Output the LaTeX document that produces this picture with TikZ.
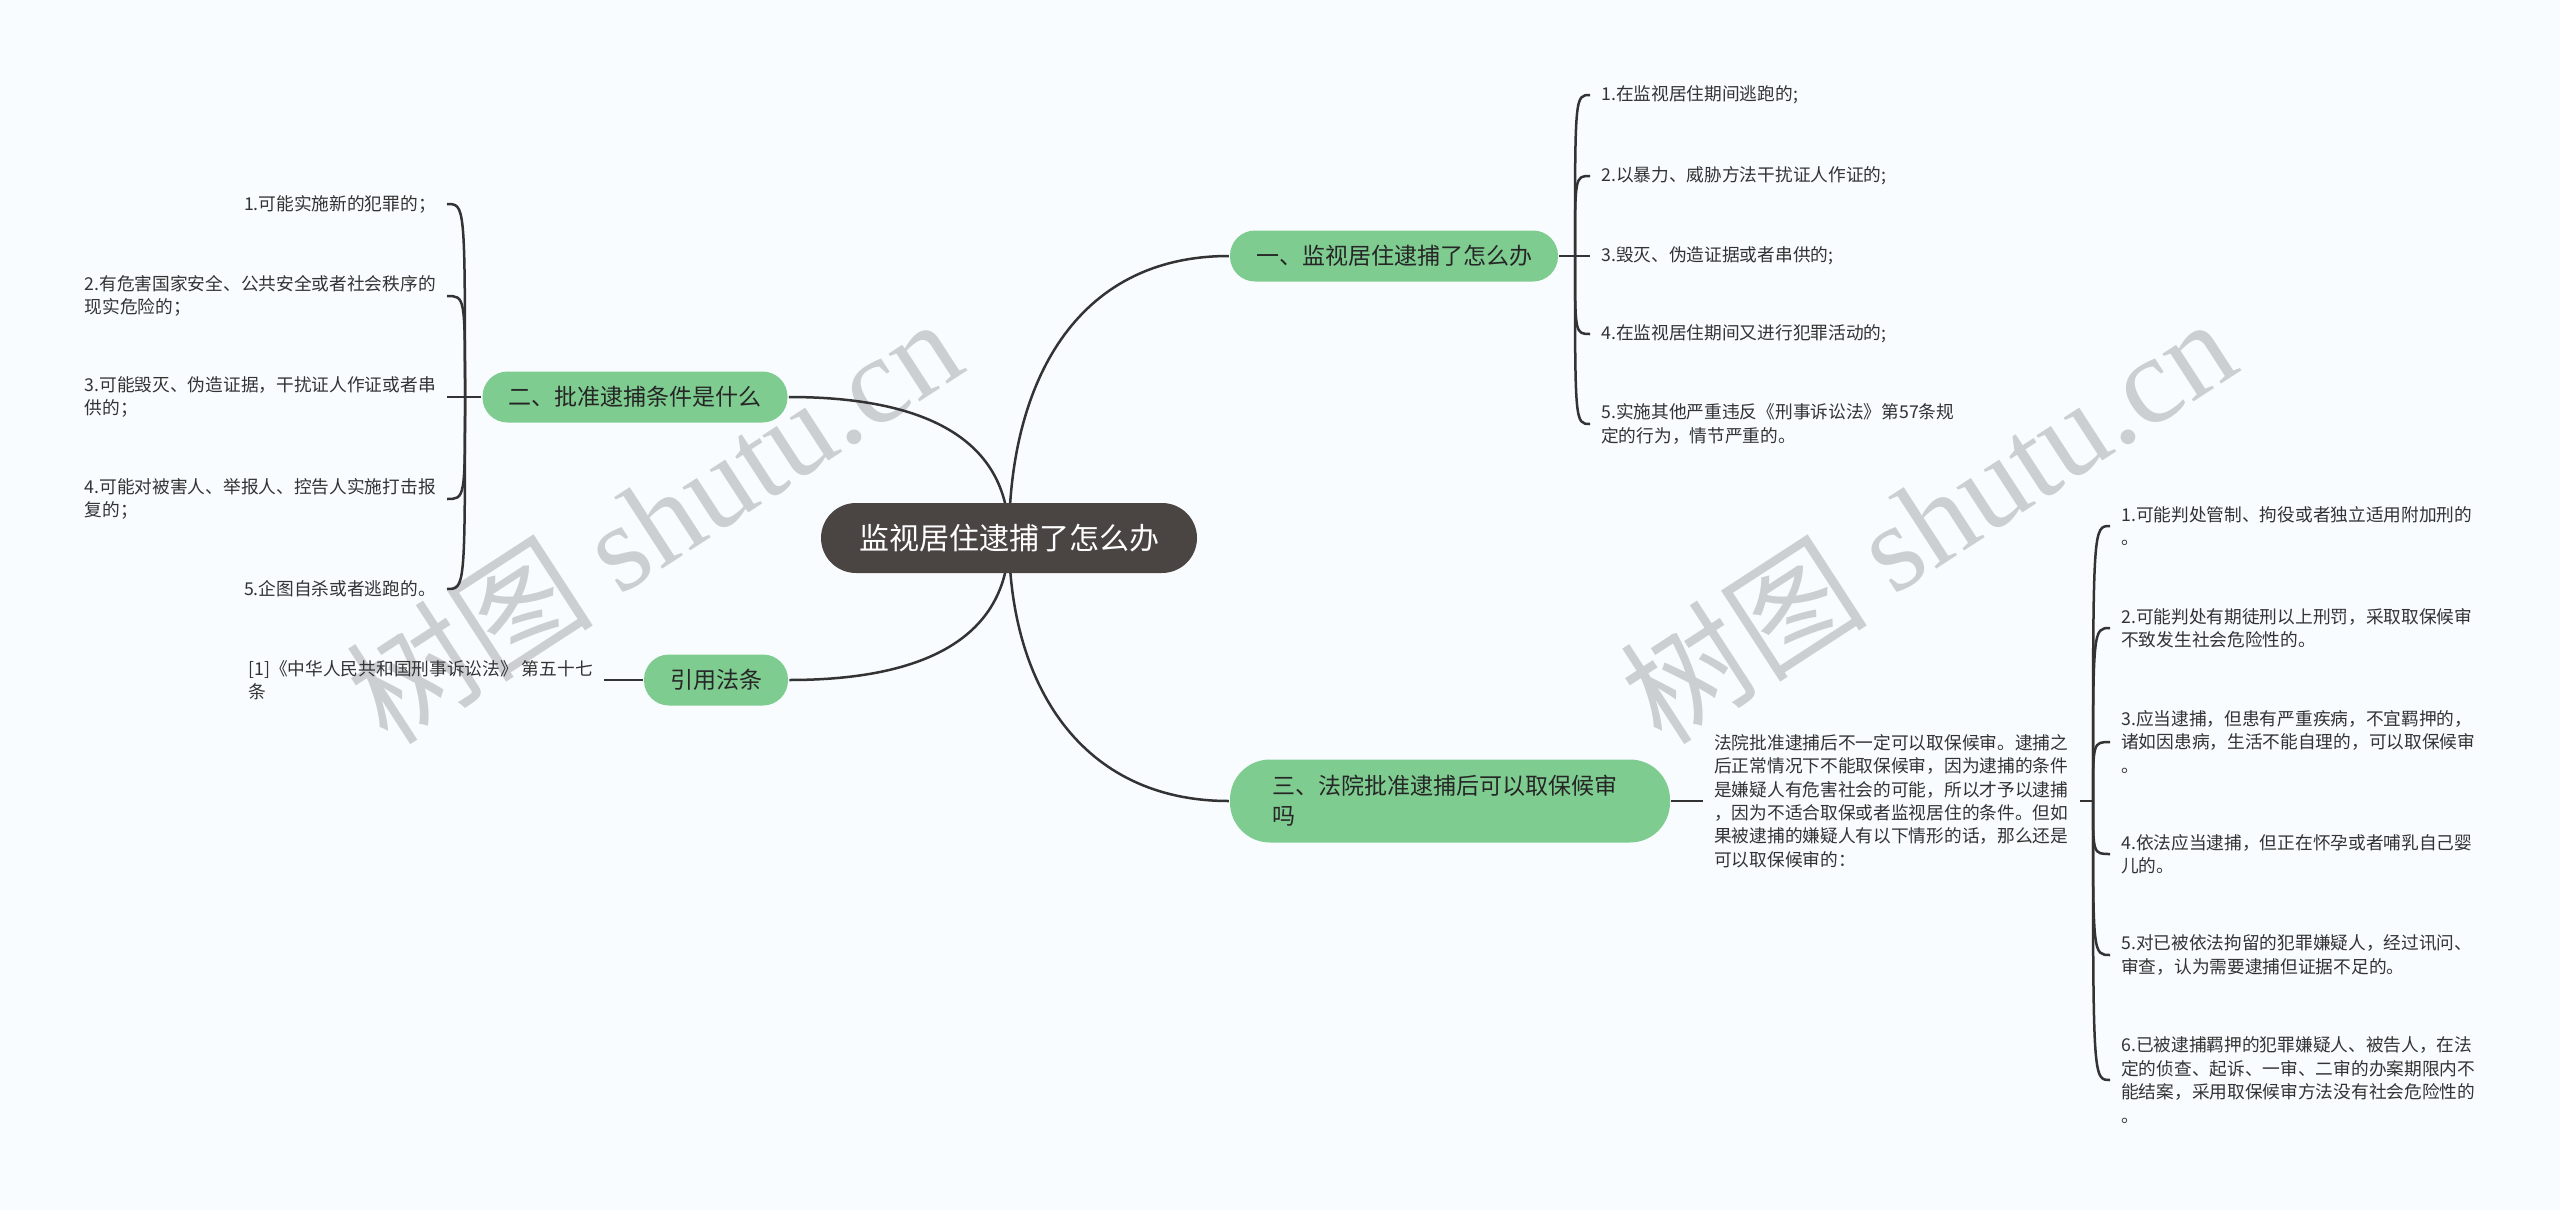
\documentclass[tikz,border=0pt]{standalone}
\usepackage{fontspec}
\setmainfont{Noto Sans CJK SC}
\newfontfamily\wmserif{Liberation Serif}
\usetikzlibrary{backgrounds}
\definecolor{tgreen}{RGB}{127,204,145}
\definecolor{rootgray}{RGB}{74,68,67}
\definecolor{linegray}{RGB}{51,51,51}
\definecolor{wmgray}{RGB}{204,207,209}
\definecolor{paper}{RGB}{248,252,254}

\begin{document}
\begin{tikzpicture}[x=0.5pt,y=-0.5pt,line width=1.25pt,
  root/.style={fill=rootgray,text=white,rounded corners=17.5pt,minimum height=35pt,inner xsep=19pt,font=\fontsize{15}{18}\selectfont},
  topic/.style={fill=tgreen,text=black!85,rounded corners=12.5pt,minimum height=25.5pt,inner xsep=13pt,font=\fontsize{11.5}{15}\selectfont},
  leaf/.style={text=black!80,align=left,inner xsep=5pt,inner ysep=2pt,font=\fontsize{8.85}{11.7}\selectfont},
  link/.style={draw=linegray,line width=1.25pt}]
  \useasboundingbox (0,0) rectangle (2560,1210);
  % nodo central y ramas
  \node[root] (root) at (1009,538) {监视居住逮捕了怎么办};
  \node[topic] (n1) at (1394,256) {一、监视居住逮捕了怎么办};
  \node[topic] (n2) at (635,397) {二、批准逮捕条件是什么};
  \node[topic] (cite) at (716,680) {引用法条};
  \node[topic,rounded corners=20pt,minimum height=41.5pt,text width=178pt,inner xsep=21pt,align=left] (n3) at (1450,801) {三、法院批准逮捕后可以取保候审\\吗};
  % fondo, marca de agua, curvas del centro
  \begin{scope}[on background layer]
    \fill[paper] (0,0) rectangle (2560,1210);
    \node[text=wmgray,rotate=33,font=\fontsize{62}{70}\selectfont] (wm1) at (653,519) {树图 {\wmserif shutu.cn}};
    \node[text=wmgray,rotate=33,font=\fontsize{62}{70}\selectfont] (wm2) at (1927,519) {树图 {\wmserif shutu.cn}};
    \draw[link] (root.center) to[out=90,in=180,looseness=1.1] (n1.west);
    \draw[link] (root.center) to[out=90,in=0,looseness=1.1] (n2.east);
    \draw[link] (root.center) to[out=-90,in=0,looseness=1.1] (cite.east);
    \draw[link] (root.center) to[out=-90,in=180,looseness=1.1] (n3.west);
  \end{scope}
  % rama uno
  \coordinate (j1) at (1575,256);
  \draw[link] (n1.east) -- (j1);
  \foreach \t/\y [count=\i] in {{1.在监视居住期间逃跑的;}/95,{2.以暴力、威胁方法干扰证人作证的;}/176,{3.毁灭、伪造证据或者串供的;}/256,{4.在监视居住期间又进行犯罪活动的;}/334,{5.实施其他严重违反《刑事诉讼法》第57条规\\定的行为，情节严重的。}/424}{
    \node[leaf,anchor=west] (a\i) at (1590,\y) {\t};
    \draw[link] (j1) .. controls (j1 |- a\i.west) .. (a\i.west);
  }
  % rama dos
  \coordinate (j2) at (465,397);
  \draw[link] (n2.west) -- (j2);
  \foreach \t/\y [count=\i] in {{1.可能实施新的犯罪的；}/204,{2.有危害国家安全、公共安全或者社会秩序的\\现实危险的；}/296,{3.可能毁灭、伪造证据，干扰证人作证或者串\\供的；}/397,{4.可能对被害人、举报人、控告人实施打击报\\复的；}/499,{5.企图自杀或者逃跑的。}/589}{
    \node[leaf,anchor=east] (b\i) at (447,\y) {\t};
    \draw[link] (j2) .. controls (j2 |- b\i.east) .. (b\i.east);
  }
  % ley citada
  \node[leaf,anchor=east] (law) at (604,680) {[1]《中华人民共和国刑事诉讼法》 第五十七\\条};
  \draw[link] (cite.west) -- (law.east);
  % rama tres
  \node[leaf,anchor=west] (para) at (1703,801) {法院批准逮捕后不一定可以取保候审。逮捕之\\后正常情况下不能取保候审，因为逮捕的条件\\是嫌疑人有危害社会的可能，所以才予以逮捕\\，因为不适合取保或者监视居住的条件。但如\\果被逮捕的嫌疑人有以下情形的话，那么还是\\可以取保候审的：};
  \draw[link] (n3.east) -- (para.west);
  \coordinate (j3) at (2093,801);
  \draw[link] (para.east) -- (j3);
  \foreach \t/\y [count=\i] in {{1.可能判处管制、拘役或者独立适用附加刑的\\。}/526,{2.可能判处有期徒刑以上刑罚，采取取保候审\\不致发生社会危险性的。}/628,{3.应当逮捕，但患有严重疾病，不宜羁押的，\\诸如因患病，生活不能自理的，可以取保候审\\。}/742,{4.依法应当逮捕，但正在怀孕或者哺乳自己婴\\儿的。}/854,{5.对已被依法拘留的犯罪嫌疑人，经过讯问、\\审查，认为需要逮捕但证据不足的。}/955,{6.已被逮捕羁押的犯罪嫌疑人、被告人，在法\\定的侦查、起诉、一审、二审的办案期限内不\\能结案，采用取保候审方法没有社会危险性的\\。}/1080}{
    \node[leaf,anchor=west] (c\i) at (2110,\y) {\t};
    \draw[link] (j3) .. controls (j3 |- c\i.west) .. (c\i.west);
  }
\end{tikzpicture}
\end{document}
